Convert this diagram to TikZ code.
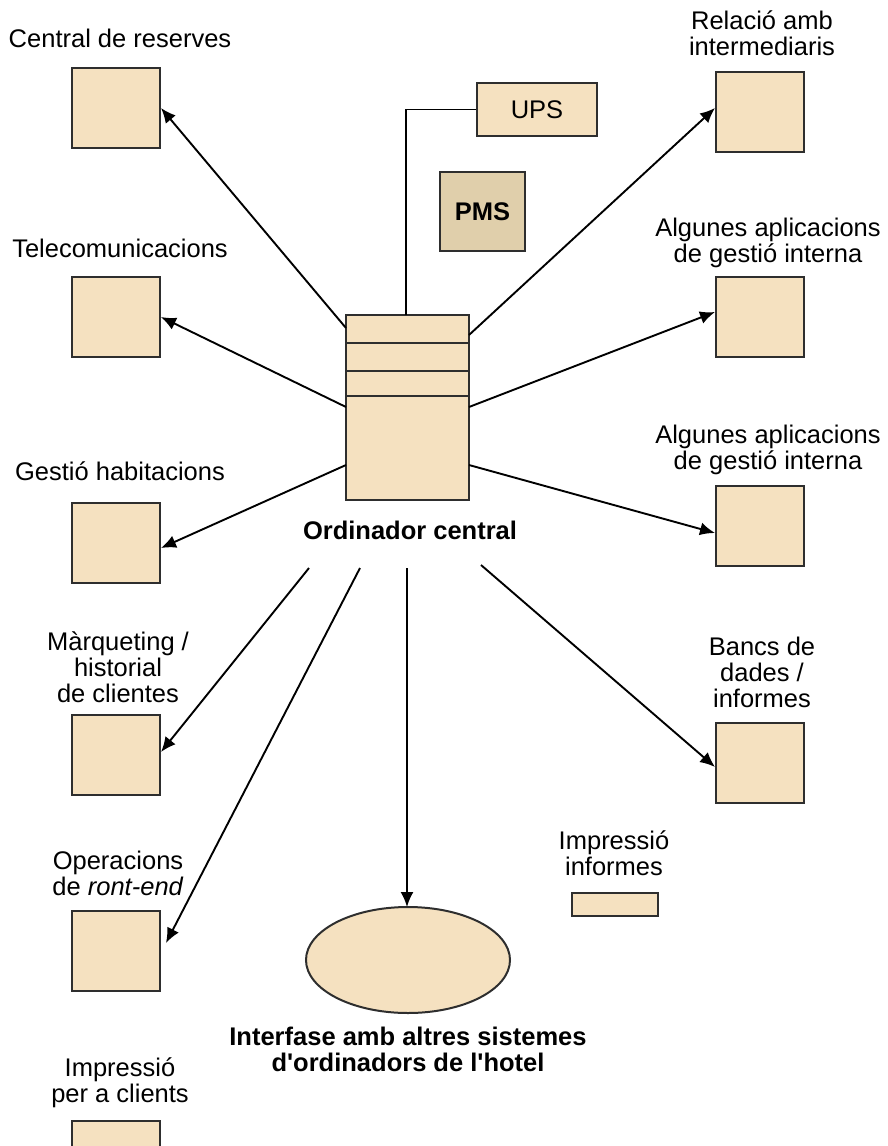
\documentclass[tikz,border=0pt]{standalone}
\usepackage{fontspec}
\setmainfont{Liberation Sans}
\usetikzlibrary{arrows.meta}
\definecolor{boxfill}{HTML}{F5E1C0}
\definecolor{pmsfill}{HTML}{E0CFAB}
\definecolor{edge}{HTML}{2E2E2E}

\begin{document}
\begin{tikzpicture}[x=1pt,y=-1pt,
  box/.style={draw=edge, fill=boxfill, line width=2pt, minimum width=88pt,
    minimum height=80pt, inner sep=0pt},
  lbl/.style={font=\fontsize{25.5}{26}\selectfont, align=center, inner sep=0pt},
  blbl/.style={lbl, font=\fontsize{25.5}{26}\selectfont\bfseries},
  link/.style={line width=1.9pt, draw=black},
  arr/.style={link, -{Latex[length=15pt,width=13pt]}}]

\useasboundingbox (0,0) rectangle (887,1146);

% left column of subsystems
\node[box] (cres) at (116,108) {};
\node[box] (tele) at (116,317) {};
\node[box] (hab)  at (116,543) {};
\node[box] (mark) at (116,755) {};
\node[box] (oper) at (116,951) {};
\node[box] (impc) at (116,1161) {};

% right column of subsystems
\node[box] (rel)  at (760,112) {};
\node[box] (alg1) at (760,317) {};
\node[box] (alg2) at (760,526) {};
\node[box] (banc) at (760,763) {};

% labels
\node[lbl] (tcres) at (120,38) {Central de reserves};
\node[lbl] (ttele) at (120,248) {Telecomunicacions};
\node[lbl] (thab)  at (120,471) {Gestió habitacions};
\node[lbl] (tmark) at (118,667) {Màrqueting /\\historial\\de clientes};
\node[lbl] (toper) at (118,873) {Operacions\\de \textit{ront-end}};
\node[lbl] (timpc) at (120,1083) {Impressió\\per a clients};
\node[lbl] (trel)  at (762,33) {Relació amb\\intermediaris};
\node[lbl] (talg1) at (768,243) {Algunes aplicacions\\de gestió interna};
\node[lbl] (talg2) at (768,450) {Algunes aplicacions\\de gestió interna};
\node[lbl] (tbanc) at (762,672) {Bancs de\\dades /\\informes};
\node[lbl] (timpi) at (614,853) {Impressió\\informes};

% small printer bar
\node[box, minimum width=86pt, minimum height=23pt] (impi) at (615,904.5) {};

% UPS and PMS
\node[box, minimum width=120pt, minimum height=53pt, font=\fontsize{25.5}{26}\selectfont]
  (ups) at (537,109.5) {UPS};
\node[box, fill=pmsfill, minimum width=85pt, minimum height=79pt,
  font=\fontsize{25.5}{26}\selectfont\bfseries] (pms) at (482.5,211.5) {PMS};

% central computer
\node[box, minimum width=123pt, minimum height=185pt] (cpu) at (407.5,407.5) {};
\draw[draw=edge, line width=2pt]
  (cpu.west |- 0,343) -- (cpu.east |- 0,343)
  (cpu.west |- 0,371) -- (cpu.east |- 0,371)
  (cpu.west |- 0,395.5) -- (cpu.east |- 0,395.5);
\node[blbl] (tcpu) at (410,530) {Ordinador central};

% interface ellipse
\draw[draw=edge, fill=boxfill, line width=2pt] (408,960) ellipse [x radius=102, y radius=53];
\coordinate (iface) at (408,907);
\node[blbl] (tiface) at (408,1049) {Interfase amb altres sistemes\\d\textquotesingle ordinadors de l\textquotesingle hotel};

% power line to the UPS
\coordinate (cputop) at (406,315);
\draw[link] (cputop) |- (ups.west);

% start points of the connectors
\coordinate (s1) at (346,328);
\coordinate (s2) at (346,407);
\coordinate (s3) at (346,465);
\coordinate (s4) at (309,568);
\coordinate (s5) at (360,568);
\coordinate (s6) at (407,568);
\coordinate (s7) at (481,565);
\coordinate (s8) at (469,465);
\coordinate (s9) at (469,407);
\coordinate (s10) at (469,335);
\coordinate (oend) at (166,943);

\draw[arr] (s1) -- (cres.east);
\draw[arr] (s2) -- (tele.east);
\draw[arr] (s3) -- (hab.east |- 0,548);
\draw[arr] (s4) -- (mark.east |- 0,752);
\draw[arr] (s5) -- (oend);
\draw[arr] (s6) -- (s6 |- iface);
\draw[arr] (s7) -- (banc.west |- 0,767);
\draw[arr] (s8) -- (alg2.west |- 0,533);
\draw[arr] (s9) -- (alg1.west |- 0,312);
\draw[arr] (s10) -- (rel.west |- 0,108);
\end{tikzpicture}
\end{document}
